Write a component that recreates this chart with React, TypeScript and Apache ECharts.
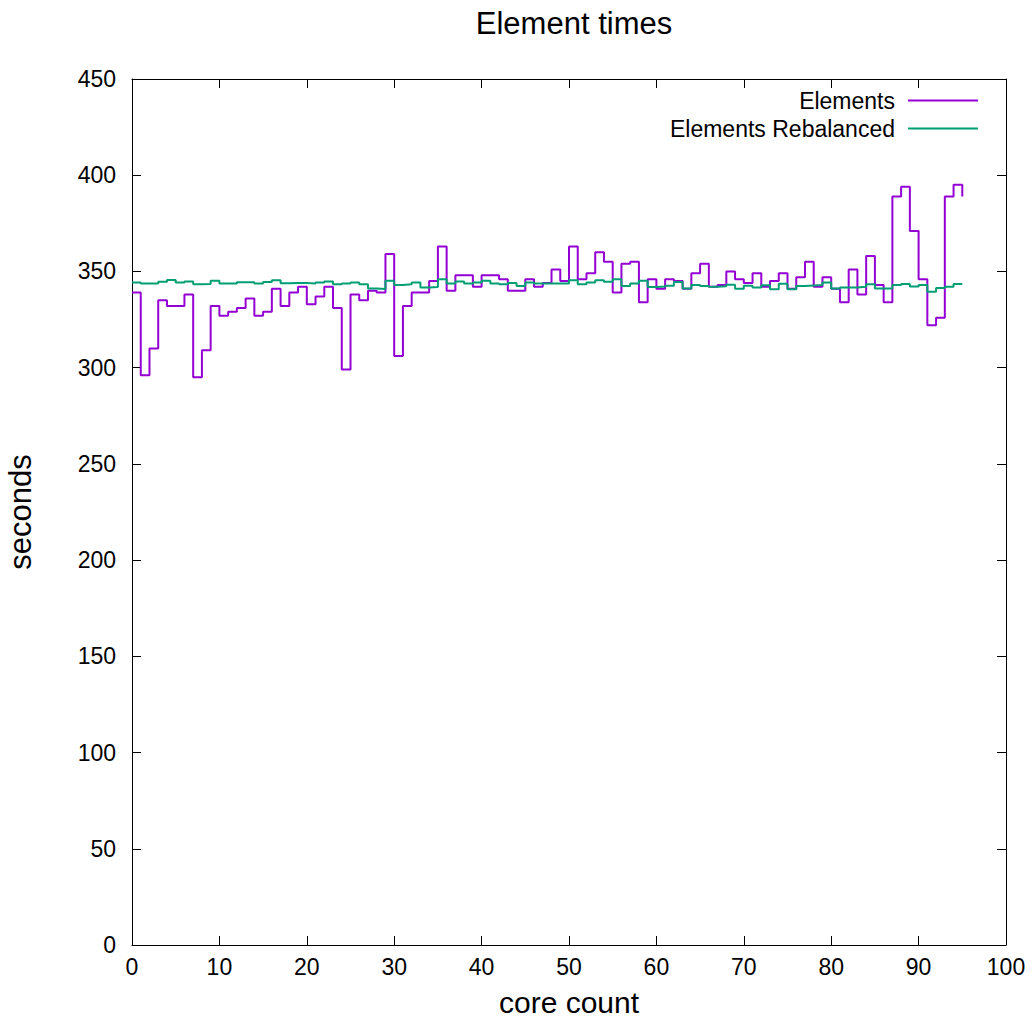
import React, { useEffect, useRef } from "react";
import * as echarts from "echarts";

const cores = [
  0, 1, 2, 3, 4, 5, 6, 7, 8, 9, 10, 11, 12, 13, 14, 15, 16, 17, 18, 19,
  20, 21, 22, 23, 24, 25, 26, 27, 28, 29, 30, 31, 32, 33, 34, 35, 36, 37, 38, 39,
  40, 41, 42, 43, 44, 45, 46, 47, 48, 49, 50, 51, 52, 53, 54, 55, 56, 57, 58, 59,
  60, 61, 62, 63, 64, 65, 66, 67, 68, 69, 70, 71, 72, 73, 74, 75, 76, 77, 78, 79,
  80, 81, 82, 83, 84, 85, 86, 87, 88, 89, 90, 91, 92, 93, 94, 95,
];

const elements = [
  339, 296, 310, 335, 332, 332, 338, 295, 309, 332, 327, 329, 331, 336, 327, 329, 341, 332, 339, 342,
  333, 337, 342, 331, 299, 338, 335, 340, 339, 359, 306, 332, 339, 339, 345, 363, 340, 348, 348, 342,
  348, 348, 346, 340, 340, 346, 342, 344, 351, 345, 363, 346, 349, 360, 355, 339, 354, 355, 334, 346,
  341, 346, 345, 341, 349, 354, 342, 343, 350, 346, 344, 349, 342, 345, 349, 341, 347, 355, 342, 347,
  341, 334, 351, 338, 358, 343, 334, 389, 394, 371, 346, 322, 326, 389, 395, 389,
];

const rebalanced = [
  344.2, 343.7, 343.7, 344.7, 345.6, 344.2, 344.8, 343.3, 343.5, 345.2, 343.7, 343.7, 344.4, 344.4, 343.7, 344.5, 345.4, 343.9, 344, 344,
  343.7, 344.3, 344.8, 343.3, 343.8, 344.3, 343.3, 341.2, 340.9, 345.2, 343, 343.3, 344.3, 341.6, 341.9, 346, 343.8, 344.8, 343.8, 344.2,
  345.2, 343.8, 343.3, 344, 342.4, 344.3, 343.8, 343.7, 343.7, 343.7, 345.4, 343.3, 344.2, 345.4, 344.7, 346, 342.4, 343.8, 345.2, 341.9,
  342.2, 342.6, 344.5, 341.2, 343, 342.5, 342, 342.3, 343.1, 341, 342.6, 341.7, 342.8, 340.7, 343.6, 340.7, 342.4, 342.7, 343, 344.2,
  341.2, 341.7, 341.7, 342, 343.3, 341.2, 341.2, 343, 343.5, 342.2, 343, 339.5, 341.4, 342, 343.5, 343.5,
];

const seriesNames = ["Elements", "Elements Rebalanced"];
const colors = ["#9400d3", "#009e73"];
const FONT = "Liberation Sans";

export default function App() {
  const ref = useRef<HTMLDivElement>(null);
  useEffect(() => {
    if (!ref.current) return;
    const chart = echarts.init(ref.current, null, { renderer: "svg" });
    const axisLine = { show: true, onZero: false, lineStyle: { color: "#000", width: 1 } };
    const tick = { show: true, inside: true, length: 9, lineStyle: { color: "#000", width: 1 } };
    const label = { color: "#000", fontSize: 23, fontFamily: FONT };
    chart.setOption({
      animation: false,
      backgroundColor: "#fff",
      title: {
        text: "Element times",
        left: 569,
        top: 3,
        textAlign: "center",
        textStyle: { color: "#000", fontSize: 31, fontWeight: "normal", fontFamily: FONT },
      },
      legend: {
        orient: "vertical",
        right: 51,
        top: 84,
        align: "right",
        itemWidth: 70,
        itemHeight: 2,
        itemGap: 5,
        icon: "rect",
        data: seriesNames,
        textStyle: { color: "#000", fontSize: 23, fontFamily: FONT, padding: [0, 8, 0, 0] },
      },
      grid: {
        left: 132,
        right: 28,
        top: 79,
        bottom: 73,
        containLabel: false,
        outerBoundsMode: "none",
      },
      xAxis: [
        {
          type: "value",
          min: 0,
          max: 100,
          interval: 10,
          position: "bottom",
          name: "core count",
          nameLocation: "middle",
          nameGap: 42,
          nameTextStyle: { color: "#000", fontSize: 30, lineHeight: 30, fontFamily: FONT },
          axisLine,
          axisTick: tick,
          axisLabel: { ...label, margin: 10 },
          splitLine: { show: false },
        },
        {
          type: "value",
          min: 0,
          max: 100,
          interval: 10,
          position: "top",
          axisLine,
          axisTick: tick,
          axisLabel: { show: false },
          splitLine: { show: false },
        },
      ],
      yAxis: [
        {
          type: "value",
          min: 0,
          max: 450,
          interval: 50,
          position: "left",
          name: "seconds",
          nameLocation: "middle",
          nameGap: 96,
          nameTextStyle: { color: "#000", fontSize: 31, fontFamily: FONT },
          axisLine,
          axisTick: tick,
          axisLabel: { ...label, margin: 16, padding: [0, 0, 8, 0] },
          splitLine: { show: false },
        },
        {
          type: "value",
          min: 0,
          max: 450,
          interval: 50,
          position: "right",
          axisLine,
          axisTick: tick,
          axisLabel: { show: false },
          splitLine: { show: false },
        },
      ],
      series: [
        {
          name: seriesNames[0],
          type: "line",
          step: "end",
          symbol: "none",
          color: colors[0],
          lineStyle: { width: 2, color: colors[0] },
          data: cores.map((c, i) => [c, elements[i]]),
        },
        {
          name: seriesNames[1],
          type: "line",
          step: "end",
          symbol: "none",
          color: colors[1],
          lineStyle: { width: 2, color: colors[1] },
          data: cores.map((c, i) => [c, rebalanced[i]]),
        },
      ],
    });
    return () => chart.dispose();
  }, []);
  return <div ref={ref} style={{ width: 1034, height: 1018, position: "absolute", left: 0, top: 0 }} />;
}
